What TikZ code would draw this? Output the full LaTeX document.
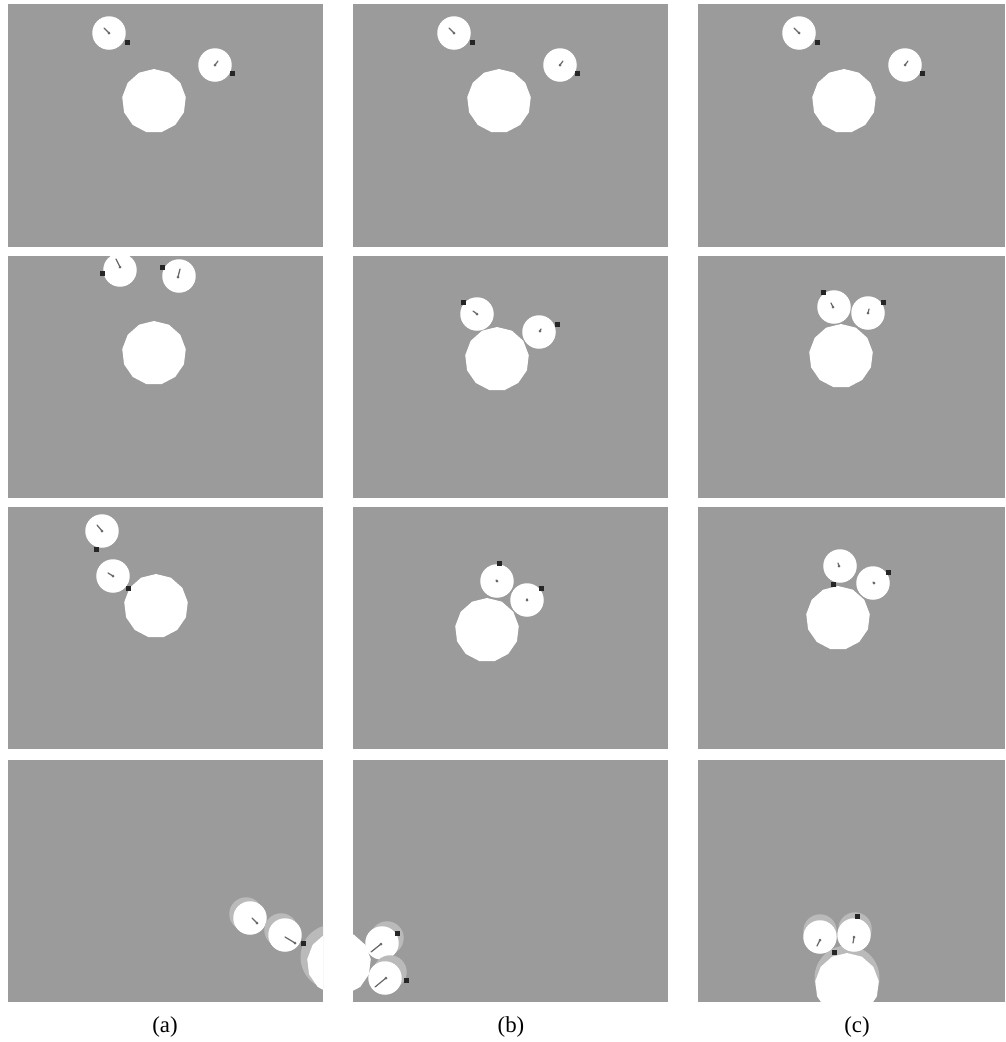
\documentclass[tikz,border=0pt]{standalone}
\usepackage{fontspec}
\setmainfont{Liberation Serif}
\usepackage{tikz}
\usetikzlibrary{shapes.geometric}

\definecolor{floorgray}{RGB}{155,155,155}
\definecolor{ghostgray}{RGB}{186,186,186}
\definecolor{pointergray}{RGB}{105,105,105}

% one panel of the grid, clipped to its own frame
\newcommand{\cell}[3]{%
  \fill[floorgray] (#1,#2) rectangle ++(#3,242);
  \clip (#1,#2) rectangle ++(#3,242);}
% robot: name, centre, bumper, pointer start, pointer end
\newcommand{\robot}[5]{%
  \node[robotdisc] (#1) at (#2) {};
  \fill[black!85] (#3) ++(-2.5,-2.5) rectangle ++(5,5);
  \draw[pointer] (#4) -- (#5);
  \fill[pointergray] (#5) circle[radius=0.03cm];}

\begin{document}
\begin{tikzpicture}[
    x=0.02cm, y=-0.02cm,
    robotdisc/.style={circle, fill=white, inner sep=0pt, minimum size=0.67cm},
    ghostdisc/.style={circle, fill=ghostgray, inner sep=0pt, minimum size=0.67cm},
    object/.style={regular polygon, regular polygon sides=13, fill=white, inner sep=0pt, minimum size=1.28cm},
    ghostobject/.style={circle, fill=ghostgray, inner sep=0pt, minimum size=1.3cm},
    pointer/.style={draw=pointergray, line width=0.7pt, line cap=round},
    caption/.style={font=\fontsize{13}{15}\selectfont}
]
\useasboundingbox (0,0) rectangle (1005,1042);

% first row: same start in all three columns
\foreach \ox/\c/\w in {0/a/315, 345/b/315, 690/c/307} {
  \begin{scope}[shift={(\ox,0)}]
    \fill[floorgray] (8,4) rectangle ++(\w,243);
    \node[object] (p1\c-obj) at (154,101) {};
    \robot{p1\c-r1}{109,33}{127,42}{104,28}{109,33}
    \robot{p1\c-r2}{215,65}{232,73}{218,61}{215,65}
  \end{scope}
}

% second row
\begin{scope}
  \cell{8}{256}{315}
  \node[object] (p2a-obj) at (154,353) {};
  \robot{p2a-r1}{120,270}{102,273}{116,259}{120,267}
  \robot{p2a-r2}{179,276}{162,267}{180,269}{178,277}
\end{scope}
\begin{scope}
  \cell{353}{256}{315}
  \node[object] (p2b-obj) at (497,359) {};
  \robot{p2b-r1}{477,314}{463,302}{473,311}{477,314}
  \robot{p2b-r2}{539,332}{557,324}{541,329}{540,331}
\end{scope}
\begin{scope}
  \cell{698}{256}{307}
  \node[object] (p2c-obj) at (841,356) {};
  \robot{p2c-r1}{834,307}{823,292}{831,303}{833,307}
  \robot{p2c-r2}{868,313}{883,302}{869,309}{868,313}
\end{scope}

% third row
\begin{scope}
  \cell{8}{507}{315}
  \node[object] (p3a-obj) at (156,606) {};
  \robot{p3a-r1}{102,531}{96,549}{97,525}{102,531}
  \robot{p3a-r2}{113,576}{128,588}{108,573}{113,576}
\end{scope}
\begin{scope}
  \cell{353}{507}{315}
  \node[object] (p3b-obj) at (487,630) {};
  \robot{p3b-r1}{497,581}{499,563}{496,580}{497,581}
  \robot{p3b-r2}{527,600}{541,588}{527,599}{527,600}
\end{scope}
\begin{scope}
  \cell{698}{507}{307}
  \node[object] (p3c-obj) at (838,618) {};
  \robot{p3c-r1}{840,566}{833,584}{838,563}{839,566}
  \robot{p3c-r2}{873,583}{888,572}{873,582}{874,583}
\end{scope}

% fourth row
\begin{scope}
  \cell{8}{760}{315}
  \node[ghostobject] (p4a-ghost) at (333,957) {};
  \node[object] (p4a-obj) at (339,963) {};
  \node[ghostdisc] (p4a-g1) at (246,914) {};
  \robot{p4a-r1}{250,918}{269,925}{252,918}{257,923}
  \node[ghostdisc] (p4a-g2) at (281,930) {};
  \robot{p4a-r2}{285,935}{303,943}{285,937}{295,943}
\end{scope}
\begin{scope}
  \cell{353}{760}{315}
  \node[object] (p4b-obj) at (339,963) {};
  \node[ghostdisc] (p4b-g1) at (387,938) {};
  \robot{p4b-r1}{382,943}{397,933}{371,952}{381,944}
  \node[ghostdisc] (p4b-g2) at (390,972) {};
  \robot{p4b-r2}{385,978}{406,980}{375,987}{386,978}
\end{scope}
\begin{scope}
  \cell{698}{760}{307}
  \node[ghostobject] (p4c-ghost) at (847,978) {};
  \node[object] (p4c-obj) at (847,985) {};
  \node[ghostdisc] (p4c-g1) at (820,931) {};
  \robot{p4c-r1}{820,937}{834,952}{817,946}{820,940}
  \node[ghostdisc] (p4c-g2) at (855,929) {};
  \robot{p4c-r2}{854,935}{857,916}{853,943}{854,937}
\end{scope}

% column captions
\node[caption] (cap-a) at (165,1027) {(a)};
\node[caption] (cap-b) at (511,1027) {(b)};
\node[caption] (cap-c) at (857,1027) {(c)};
\end{tikzpicture}
\end{document}
